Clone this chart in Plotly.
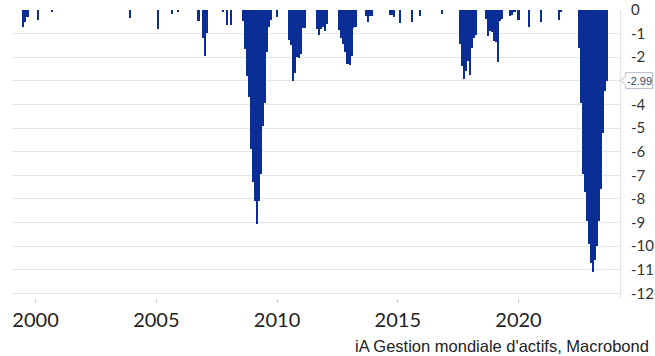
import pandas as pd
import plotly.graph_objects as go

# Monthly readings (only months below zero are listed; all others are 0)
months = [
    "1999-06", "1999-07", "1999-08",
    "2000-01", "2000-08",
    "2003-11",
    "2005-01", "2005-08", "2005-11",
    "2006-09", "2006-11", "2006-12", "2007-01",
    "2007-09", "2007-11", "2008-01",
    "2008-07", "2008-08", "2008-09", "2008-10", "2008-11", "2008-12",
    "2009-01", "2009-02", "2009-03", "2009-04", "2009-05", "2009-06",
    "2009-07", "2009-08", "2009-09", "2009-12",
    "2010-06", "2010-07", "2010-08", "2010-09", "2010-10", "2010-11",
    "2010-12", "2011-01", "2011-02",
    "2011-08", "2011-09", "2011-10", "2011-11", "2011-12", "2012-01",
    "2012-07", "2012-08", "2012-09", "2012-10", "2012-11", "2012-12",
    "2013-01", "2013-02", "2013-03",
    "2013-08", "2013-09", "2013-10", "2013-11",
    "2014-08", "2014-09", "2014-10",
    "2015-01", "2015-07", "2015-11", "2016-10",
    "2017-07", "2017-08", "2017-09", "2017-10", "2017-11", "2017-12",
    "2018-01", "2018-02", "2018-03",
    "2018-08", "2018-09", "2018-10", "2018-11", "2018-12",
    "2019-01", "2019-02", "2019-03", "2019-04",
    "2019-08", "2019-09", "2019-10", "2019-12",
    "2020-05", "2020-11", "2021-08", "2021-09",
    "2022-06", "2022-07", "2022-08", "2022-09", "2022-10", "2022-11",
    "2022-12", "2023-01", "2023-02", "2023-03", "2023-04", "2023-05",
    "2023-06", "2023-07", "2023-08",
]
values = [
    -0.72, -0.50, -0.30,
    -0.42, -0.05,
    -0.35,
    -0.80, -0.17, -0.07,
    -0.46, -1.20, -1.95, -0.97,
    -0.10, -0.63, -0.63,
    -0.45, -1.67, -2.80, -3.70, -5.90, -7.30,
    -8.10, -9.05, -8.10, -6.95, -4.90, -3.96,
    -1.80, -0.70, -0.42, -0.30,
    -1.25, -1.50, -3.00, -2.65, -2.00, -2.05,
    -1.85, -0.77, -0.77,
    -0.80, -1.05, -0.80, -0.72, -0.90, -0.60,
    -0.85, -1.20, -1.45, -1.80, -2.30, -2.35,
    -1.95, -0.75, -0.70,
    -0.25, -0.50, -0.25, -0.25,
    -0.20, -0.20, -0.30,
    -0.56, -0.50, -0.25, -0.15,
    -1.45, -2.36, -2.92, -2.60, -2.15, -2.75,
    -1.60, -1.20, -1.05,
    -0.40, -1.10, -0.90, -0.95, -1.30,
    -1.35, -2.20, -0.45, -0.40,
    -0.25, -0.20, -0.10, -0.42,
    -0.70, -0.50, -0.42, -0.10,
    -1.60, -3.96, -6.95, -7.70, -8.95, -9.90,
    -10.70, -11.10, -10.60, -10.00, -8.95, -7.60,
    -5.20, -3.45, -2.99,
]
year_ticks = ["2000", "2005", "2010", "2015", "2020"]
y_ticks = list(range(0, -13, -1))
source_text = "iA Gestion mondiale d'actifs, Macrobond"

BAR_BLUE = "#0a2d96"
GRID = "#e6e6e6"

# each monthly bar is centred on the close of its month
periods = pd.PeriodIndex(months, freq="M")
dates = (periods + 1).to_timestamp()
month_ms = 31 * 24 * 3600 * 1000

last_value = values[-1]

fig = go.Figure(
    go.Bar(
        x=dates,
        y=values,
        width=[month_ms] * len(values),
        marker=dict(color=BAR_BLUE, line=dict(width=0)),
        hoverinfo="x+y",
    )
)

# the whole-number label nearest the last value sits under its callout
y_ticktext = ["" if round(last_value) == t else str(t) for t in y_ticks]

W, H = 655, 356
M_L, M_R, M_T, M_B = 12, 35, 10, 58
Y_MIN, Y_MAX = -12.2, 0.0

fig.update_layout(
    width=W,
    height=H,
    margin=dict(l=M_L, r=M_R, t=M_T, b=M_B, autoexpand=False),
    paper_bgcolor="white",
    plot_bgcolor="white",
    bargap=0,
    showlegend=False,
    xaxis=dict(
        type="date",
        range=["1999-01-10", "2024-03-15"],
        tickvals=[f"{y}-01-01" for y in year_ticks],
        ticktext=year_ticks,
        ticks="outside",
        ticklen=4,
        tickcolor="#cfcfcf",
        showgrid=False,
        zeroline=False,
        showline=False,
        automargin=False,
        tickfont=dict(family="Lato", size=20, color="#222222"),
    ),
    yaxis=dict(
        side="right",
        range=[Y_MIN, Y_MAX],
        tickvals=y_ticks,
        ticktext=y_ticktext,
        showgrid=True,
        gridcolor=GRID,
        gridwidth=1,
        zeroline=False,
        showline=True,
        linecolor="#e3e3e3",
        linewidth=1,
        ticks="",
        automargin=False,
        ticklabelstandoff=7,
        ticklabeloverflow="allow",
        tickfont=dict(family="Lato", size=15, color="#333333"),
    ),
)

# last-value callout on the value axis
plot_w = W - M_L - M_R
plot_h = H - M_T - M_B


def px_to_paper_x(px):
    return (px - M_L) / plot_w


def val_to_paper_y(v):
    return (v - Y_MIN) / (Y_MAX - Y_MIN)


yc = val_to_paper_y(last_value)
half_box = 8 / plot_h
half_tip = 4.5 / plot_h
tip_x = px_to_paper_x(621.5)
box_l = px_to_paper_x(625.5)
box_r = px_to_paper_x(652.5)
path = (
    f"M {tip_x} {yc} L {box_l} {yc + half_tip} L {box_l} {yc + half_box} "
    f"L {box_r} {yc + half_box} L {box_r} {yc - half_box} L {box_l} {yc - half_box} "
    f"L {box_l} {yc - half_tip} Z"
)
fig.add_shape(
    type="path",
    path=path,
    xref="paper",
    yref="paper",
    line=dict(color="#b4c0d2", width=1),
    fillcolor="white",
    layer="above",
)
fig.add_annotation(
    x=(box_l + box_r) / 2,
    y=last_value,
    xref="paper",
    yref="y",
    text=f"{last_value:.2f}",
    showarrow=False,
    xanchor="center",
    yanchor="middle",
    font=dict(family="Liberation Sans", size=11, color="#34435f"),
)

# source line
fig.add_annotation(
    x=px_to_paper_x(651),
    y=-(346 - (M_T + plot_h)) / plot_h,
    xref="paper",
    yref="paper",
    text=source_text,
    showarrow=False,
    xanchor="right",
    yanchor="middle",
    font=dict(family="Liberation Sans", size=16.5, color="#222222"),
)

fig.write_html("out.html")
